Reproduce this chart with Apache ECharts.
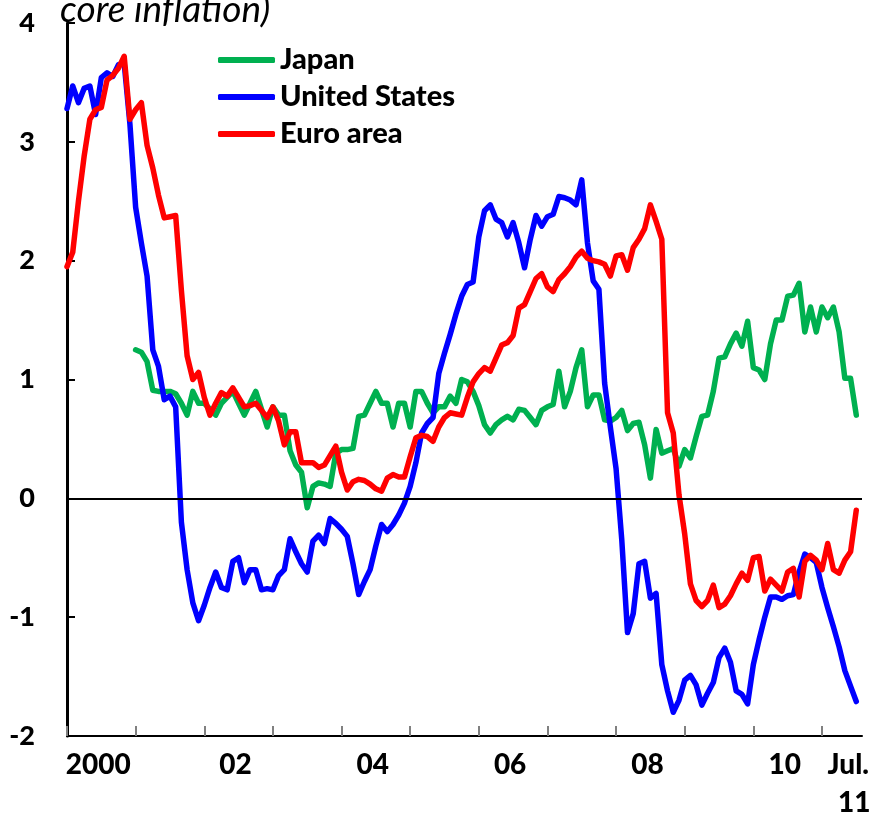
<!DOCTYPE html>
<html>
<head>
<meta charset="utf-8">
<script src="https://cdn.jsdelivr.net/npm/echarts@6/dist/echarts.min.js"></script>
<style>
  html, body { margin: 0; padding: 0; background: #fff; }
  #main { width: 875px; height: 814px; }
</style>
</head>
<body>
<div id="main"></div>
<script>
// monthly, Jan 2000 .. Jul 2011 (axis runs one month further)
const months = [];
for (let y = 2000; y <= 2011; y++) {
  for (let m = 1; m <= 12; m++) {
    if (months.length < 140) months.push(y + '-' + m);
  }
}

const tickLabels = ['2000', '02', '04', '06', '08', '10', 'Jul.\n11'];
const tickLabelIdx = [6, 30, 54, 78, 102, 126, 138];

const seriesNames = ['Japan', 'United States', 'Euro area'];
const seriesColors = ['#00B050', '#0000FF', '#FF0000'];

const japan = [
  null, null, null, null, null, null, null, null, null, null, null, null,
  1.25, 1.23, 1.15, 0.91, 0.90, 0.90, 0.90, 0.88, 0.80, 0.70,
  0.90, 0.80, 0.80, 0.75, 0.70, 0.80, 0.85, 0.90, 0.80, 0.70,
  0.80, 0.90, 0.75, 0.60, 0.77, 0.70, 0.70, 0.40, 0.28, 0.22,
  -0.08, 0.10, 0.13, 0.12, 0.10, 0.38, 0.41, 0.41, 0.42, 0.69,
  0.70, 0.80, 0.90, 0.80, 0.80, 0.60, 0.80, 0.80, 0.60, 0.90,
  0.90, 0.80, 0.72, 0.77, 0.77, 0.86, 0.80, 1.00, 0.98, 0.90,
  0.78, 0.62, 0.55, 0.62, 0.66, 0.69, 0.66, 0.75, 0.74, 0.68,
  0.62, 0.74, 0.77, 0.79, 1.07, 0.77, 0.90, 1.10, 1.25, 0.77,
  0.87, 0.87, 0.66, 0.65, 0.68, 0.74, 0.57, 0.63, 0.64, 0.45,
  0.17, 0.58, 0.38, 0.40, 0.42, 0.27, 0.41, 0.34, 0.52, 0.69,
  0.70, 0.90, 1.18, 1.19, 1.30, 1.39, 1.28, 1.49, 1.10, 1.08,
  1.00, 1.30, 1.50, 1.50, 1.70, 1.71, 1.81, 1.40, 1.61, 1.40,
  1.61, 1.52, 1.61, 1.40, 1.01, 1.01, 0.70
];

const unitedStates = [
  3.28, 3.47, 3.33, 3.45, 3.47, 3.23, 3.54, 3.58, 3.55, 3.65,
  3.66, 3.15, 2.45, 2.15, 1.87, 1.25, 1.11, 0.83, 0.86, 0.77,
  -0.20, -0.60, -0.88, -1.03, -0.90, -0.75, -0.62, -0.75, -0.77, -0.53,
  -0.50, -0.71, -0.60, -0.60, -0.77, -0.76, -0.77, -0.65, -0.60, -0.34,
  -0.45, -0.55, -0.62, -0.36, -0.31, -0.38, -0.17, -0.21, -0.26, -0.32,
  -0.55, -0.81, -0.70, -0.60, -0.40, -0.22, -0.28, -0.22, -0.14, -0.04,
  0.10, 0.30, 0.55, 0.63, 0.68, 1.05, 1.22, 1.38, 1.55, 1.70,
  1.80, 1.82, 2.20, 2.42, 2.47, 2.35, 2.32, 2.20, 2.32, 2.15,
  1.94, 2.18, 2.38, 2.29, 2.37, 2.39, 2.54, 2.53, 2.51, 2.47,
  2.68, 2.15, 1.83, 1.76, 0.97, 0.60, 0.25, -0.35, -1.13, -0.97,
  -0.55, -0.53, -0.84, -0.80, -1.40, -1.62, -1.80, -1.70, -1.53, -1.49,
  -1.57, -1.74, -1.64, -1.55, -1.34, -1.26, -1.38, -1.62, -1.65, -1.73,
  -1.40, -1.19, -1.00, -0.83, -0.83, -0.85, -0.82, -0.81, -0.62, -0.47,
  -0.50, -0.54, -0.75, -0.92, -1.08, -1.25, -1.45, -1.58, -1.71
];

const euroArea = [
  1.95, 2.07, 2.50, 2.88, 3.19, 3.27, 3.29, 3.52, 3.56, 3.62,
  3.72, 3.19, 3.27, 3.33, 2.97, 2.78, 2.55, 2.36, 2.37, 2.38,
  1.75, 1.20, 1.00, 1.06, 0.85, 0.70, 0.80, 0.89, 0.86, 0.93,
  0.85, 0.77, 0.78, 0.80, 0.74, 0.68, 0.77, 0.65, 0.45, 0.56,
  0.56, 0.30, 0.30, 0.30, 0.26, 0.28, 0.36, 0.44, 0.22, 0.07,
  0.14, 0.16, 0.15, 0.12, 0.08, 0.06, 0.17, 0.20, 0.18, 0.18,
  0.35, 0.51, 0.53, 0.52, 0.48, 0.60, 0.68, 0.72, 0.71, 0.70,
  0.85, 0.98, 1.05, 1.10, 1.07, 1.18, 1.29, 1.31, 1.37, 1.60,
  1.63, 1.74, 1.85, 1.89, 1.78, 1.74, 1.84, 1.89, 1.95, 2.03,
  2.08, 2.02, 2.00, 1.99, 1.97, 1.87, 2.04, 2.05, 1.92, 2.11,
  2.18, 2.27, 2.47, 2.33, 2.18, 0.72, 0.55, 0.03, -0.30, -0.72,
  -0.86, -0.91, -0.86, -0.73, -0.92, -0.89, -0.82, -0.72, -0.63, -0.69,
  -0.50, -0.49, -0.78, -0.68, -0.73, -0.78, -0.62, -0.59, -0.83, -0.53,
  -0.48, -0.52, -0.60, -0.38, -0.60, -0.63, -0.52, -0.45, -0.10
];

const seriesData = [japan, unitedStates, euroArea];

const font = 'Lato';
const weight = 900;
const chart = echarts.init(document.getElementById('main'));

const option = {
  animation: false,
  backgroundColor: '#fff',
  textStyle: { fontFamily: font },
  grid: { left: 67, right: 13, top: 23, bottom: 78, containLabel: false, outerBoundsMode: 'none' },
  graphic: [{
    type: 'text',
    x: 60,
    y: 10,
    style: {
      text: 'core inflation)',
      font: 'italic 37px Lato',
      fill: '#000',
      verticalAlign: 'middle'
    }
  }],
  legend: {
    orient: 'vertical',
    left: 213,
    top: 40,
    icon: 'roundRect',
    itemWidth: 57,
    itemHeight: 6,
    itemGap: 7,
    textStyle: { fontFamily: font, fontSize: 29, fontWeight: weight, color: '#000', lineHeight: 30 },
    data: seriesNames
  },
  xAxis: {
    type: 'category',
    data: months,
    boundaryGap: false,
    axisLine: { onZero: false, lineStyle: { color: '#000', width: 2 } },
    axisTick: {
      inside: true,
      length: 10,
      interval: (i) => i % 12 === 0,
      lineStyle: { color: '#808080', width: 2 }
    },
    axisLabel: {
      interval: (i) => tickLabelIdx.includes(i),
      margin: 10,
      color: '#000',
      fontFamily: font,
      fontSize: 28,
      fontWeight: weight,
      lineHeight: 38,
      formatter: (v, i) => {
        const k = tickLabelIdx.indexOf(i);
        if (k < 0) return '';
        const t = tickLabels[k];
        if (t.indexOf('\n') >= 0) {
          const parts = t.split('\n');
          return '{j|' + parts[0] + '}\n{k|' + parts[1] + '}';
        }
        return '{n|' + t + '}';
      },
      rich: {
        n: { fontFamily: font, fontSize: 28, fontWeight: weight, color: '#000', lineHeight: 38, padding: [0, 6, 0, 0] },
        j: { fontFamily: font, fontSize: 28, fontWeight: weight, color: '#000', lineHeight: 38, padding: [0, 16, 0, 0] },
        k: { fontFamily: font, fontSize: 28, fontWeight: weight, color: '#000', lineHeight: 38, padding: [0, 16, 0, 12] }
      }
    },
    splitLine: { show: false }
  },
  yAxis: {
    type: 'value',
    min: -2,
    max: 4,
    interval: 1,
    axisLine: { show: true, lineStyle: { color: '#000', width: 3 } },
    axisTick: { show: true, inside: true, length: 8, lineStyle: { color: '#000', width: 2 } },
    axisLabel: { fontFamily: font, fontSize: 27, fontWeight: weight, color: '#000', margin: 32 },
    splitLine: { show: false }
  },
  series: seriesNames.map((name, k) => ({
    name: name,
    type: 'line',
    data: seriesData[k],
    showSymbol: false,
    color: seriesColors[k],
    lineStyle: { width: 5.5, color: seriesColors[k], cap: 'round', join: 'round' },
    markLine: k === 0 ? {
      silent: true,
      symbol: 'none',
      label: { show: false },
      lineStyle: { color: '#000', width: 2, type: 'solid' },
      data: [{ yAxis: 0 }]
    } : undefined
  }))
};

chart.setOption(option);
</script>
</body>
</html>
